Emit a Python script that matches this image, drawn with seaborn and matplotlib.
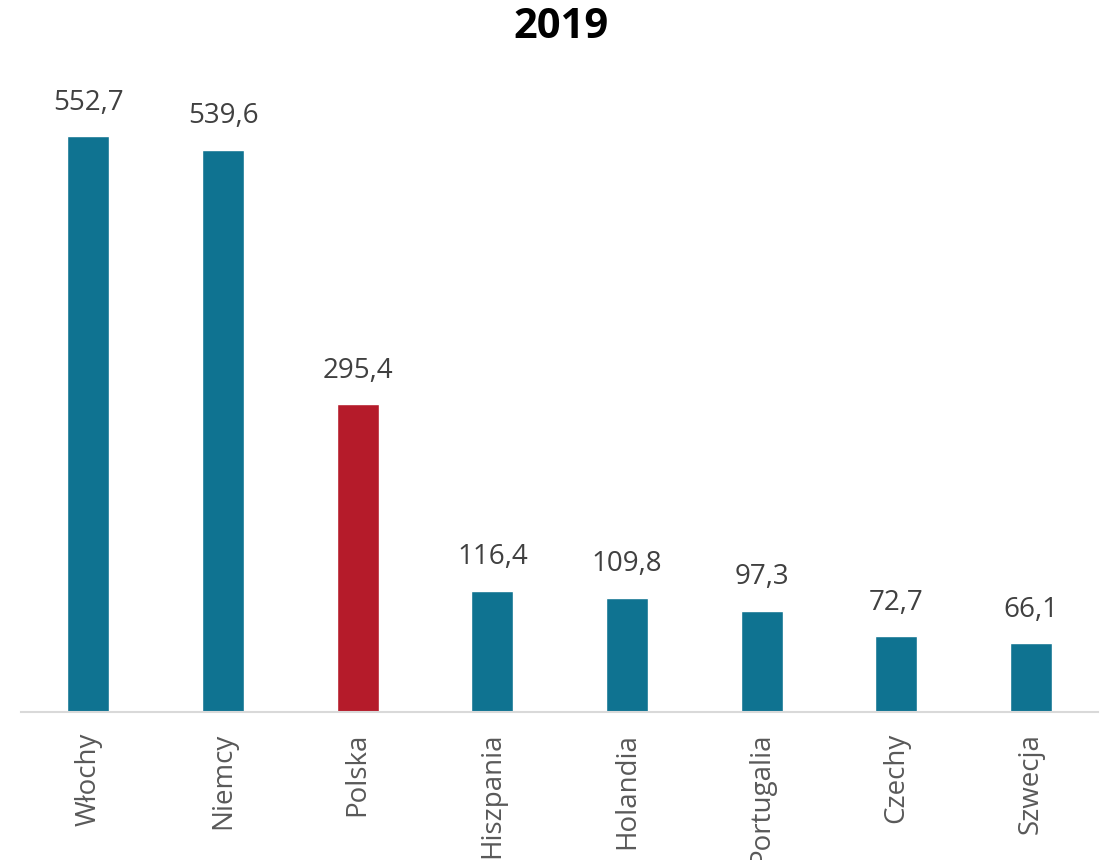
import matplotlib
matplotlib.use("Agg")
import matplotlib.pyplot as plt
import seaborn as sns
import pandas as pd

countries = ["Włochy", "Niemcy", "Polska", "Hiszpania", "Holandia", "Portugalia", "Czechy", "Szwecja"]
values = [552.7, 539.6, 295.4, 116.4, 109.8, 97.3, 72.7, 66.1]
highlight = "Polska"

TEAL = "#0F7391"
RED = "#B51B2A"

sns.set_style("white")
plt.rcParams["font.family"] = ["Open Sans", "DejaVu Sans"]

df = pd.DataFrame({"kraj": countries, "wartosc": values})
palette = {c: (RED if c == highlight else TEAL) for c in countries}

fig = plt.figure(figsize=(11.05, 8.6), dpi=100)
ax = fig.add_axes([0.019, 0.172, 0.975, 0.727])

sns.barplot(data=df, x="kraj", y="wartosc", hue="kraj", palette=palette,
            width=0.31, saturation=1, legend=False, ax=ax)

ax.set_ylim(0, 600)
ax.set_xlim(-0.5, len(countries) - 0.5)

for i, v in enumerate(values):
    ax.annotate(f"{v:.1f}".replace(".", ","), (i, v), xytext=(0, 14),
                textcoords="offset points", ha="center", va="bottom",
                fontsize=20, color="#404040")

ax.set_xlabel("")
ax.set_ylabel("")
ax.set_yticks([])
ax.tick_params(axis="x", length=0, pad=15, labelsize=20, labelcolor="#595959")
plt.setp(ax.get_xticklabels(), rotation=90, va="top", ha="center")

for side in ["top", "right", "left"]:
    ax.spines[side].set_visible(False)
ax.spines["bottom"].set_color("#D9D9D9")
ax.spines["bottom"].set_linewidth(1.5)

fig.text(0.508, 0.968, "2019", ha="center", va="center",
         fontsize=30, fontweight="bold", color="#000000")

fig.savefig("out.png", dpi=100)
